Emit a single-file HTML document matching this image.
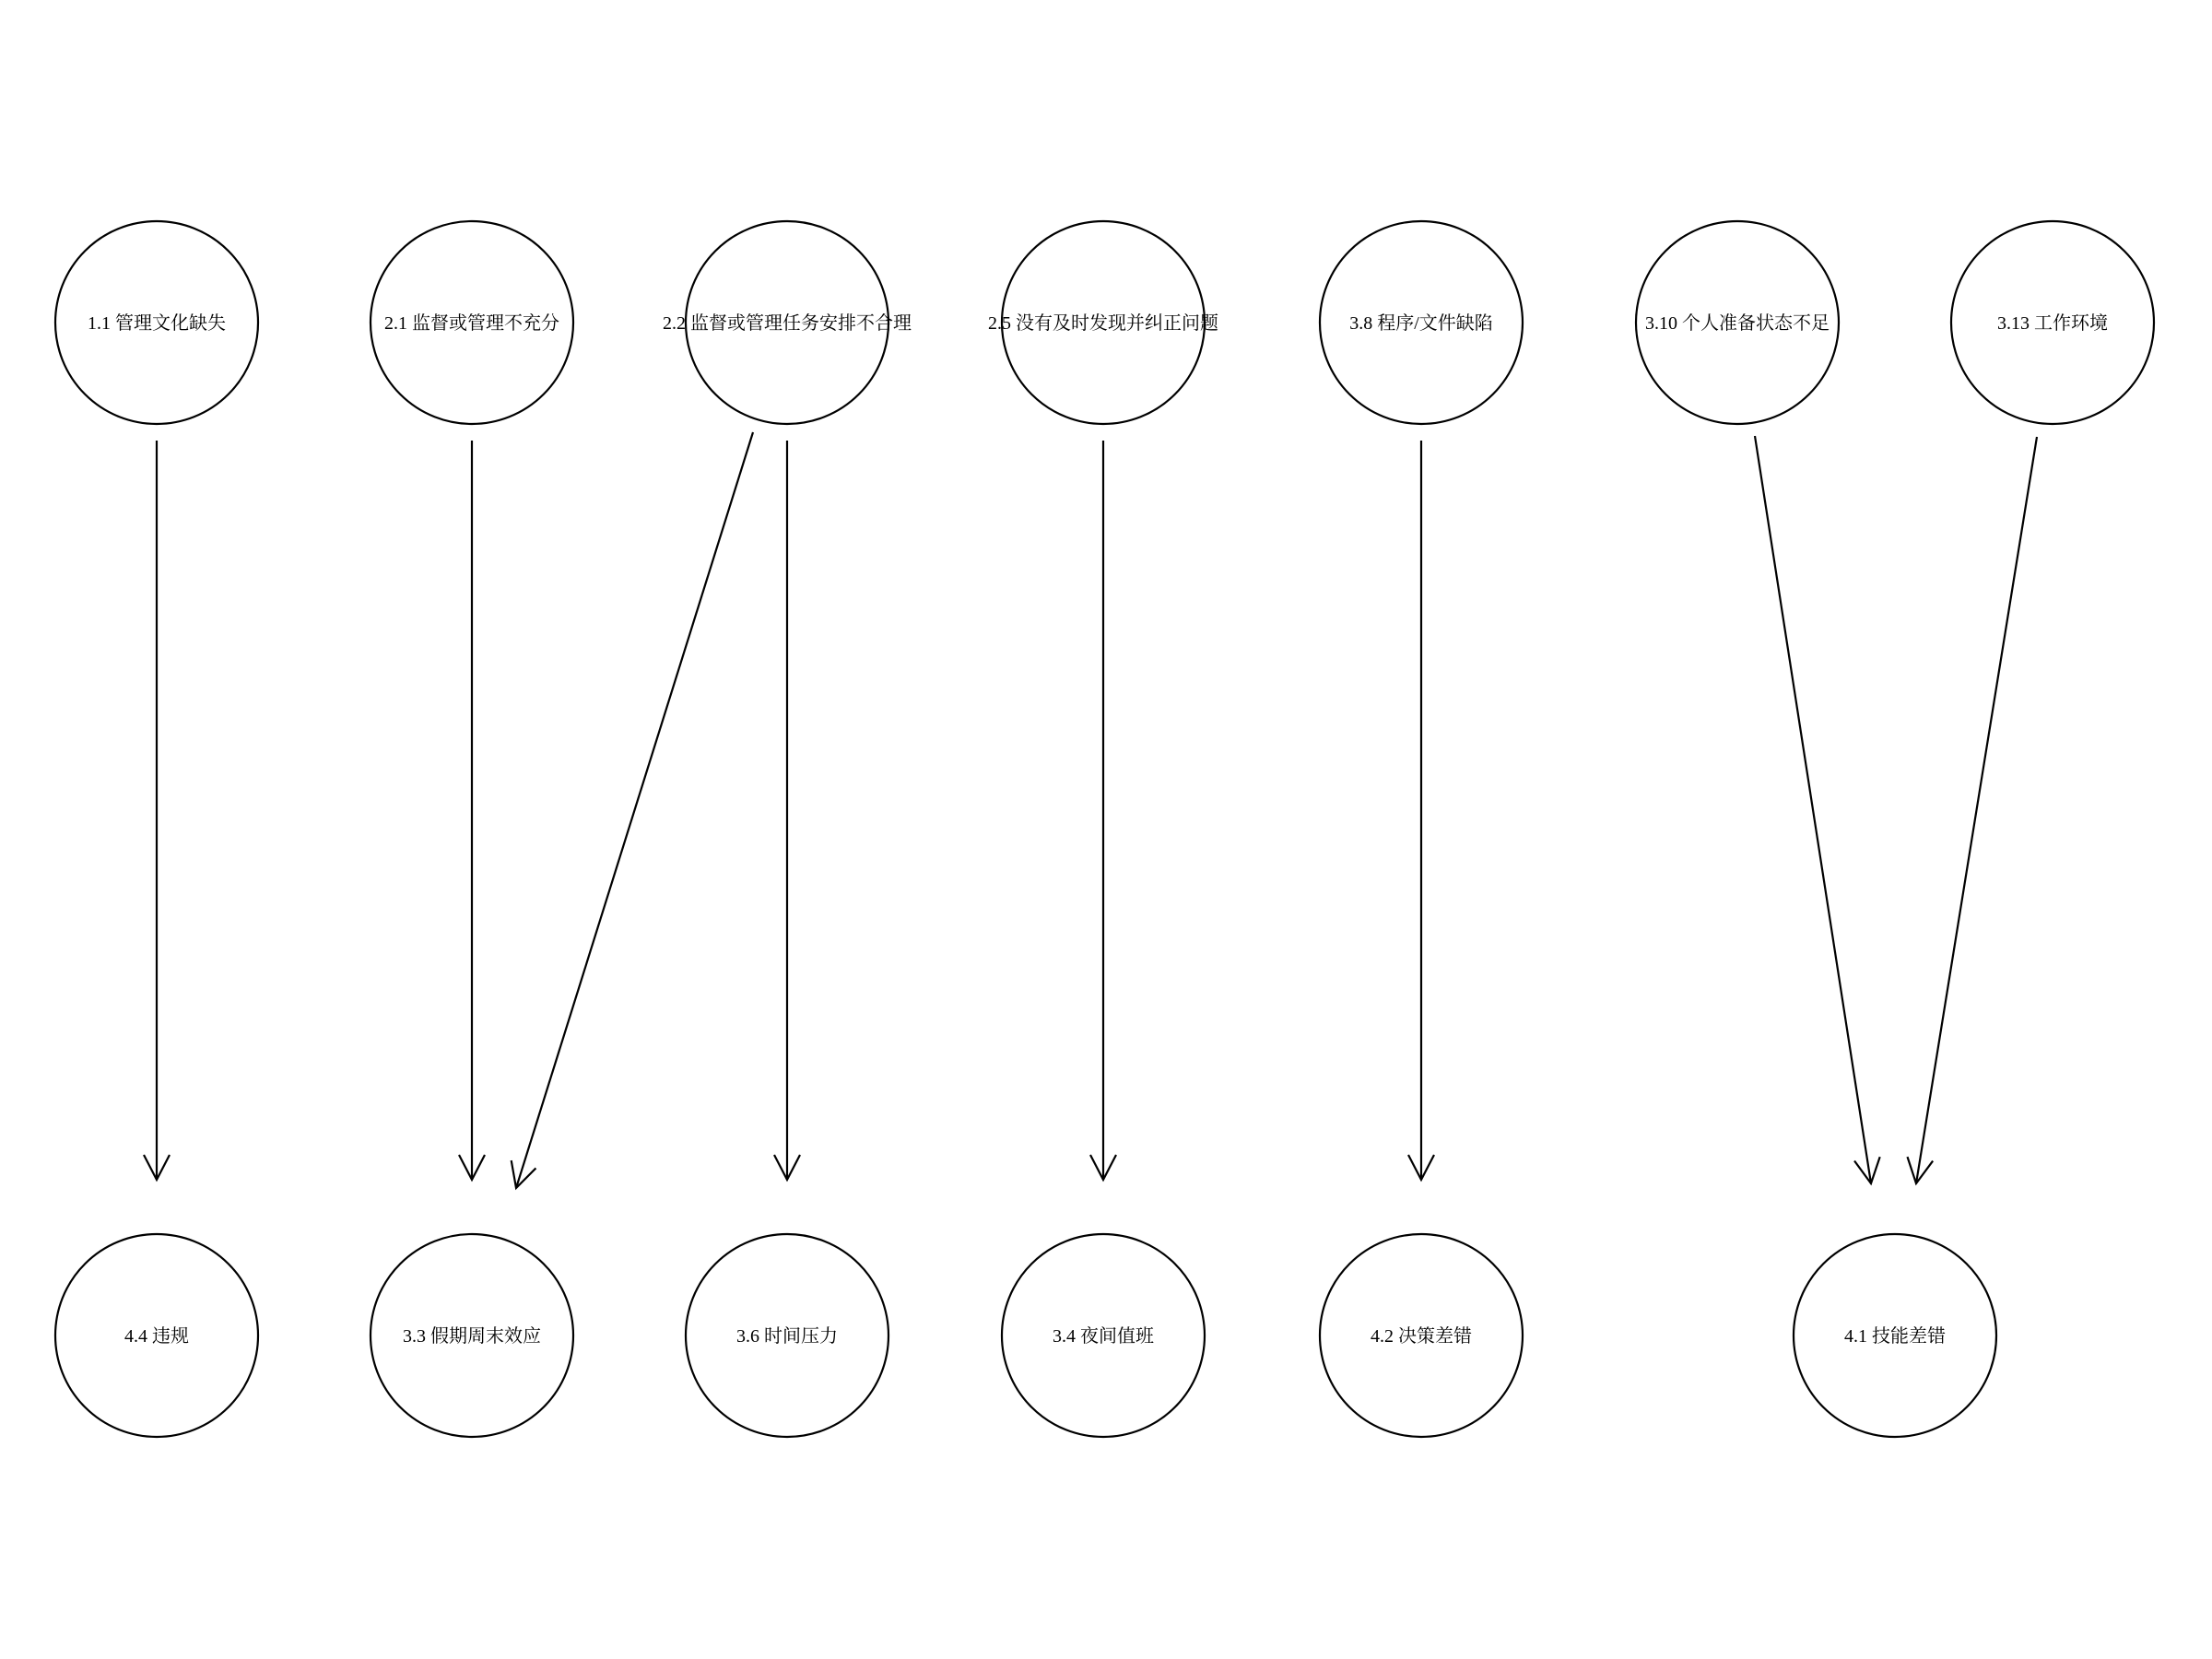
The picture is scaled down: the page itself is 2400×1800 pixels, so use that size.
<!DOCTYPE html>
<html><head><meta charset="utf-8"><style>
html,body{margin:0;padding:0;background:#fff;}
svg{display:block;}
text{font-family:"Liberation Serif","Noto Serif CJK SC",serif;font-size:20px;fill:#000;}
</style></head><body>
<svg width="2400" height="1800" viewBox="0 0 2400 1800" xmlns="http://www.w3.org/2000/svg">
<defs>
<marker id="a" markerUnits="userSpaceOnUse" markerWidth="60" markerHeight="60" refX="30" refY="30" orient="auto" viewBox="0 0 60 60">
<path d="M3,16 L30,30 L3,44" fill="none" stroke="#000" stroke-width="2.2"/>
</marker>
</defs>
<g fill="none" stroke="#000" stroke-width="2.2">
<circle cx="170" cy="350" r="110"/>
<circle cx="512" cy="350" r="110"/>
<circle cx="854" cy="350" r="110"/>
<circle cx="1197" cy="350" r="110"/>
<circle cx="1542" cy="350" r="110"/>
<circle cx="1885" cy="350" r="110"/>
<circle cx="2227" cy="350" r="110"/>
<circle cx="170" cy="1449" r="110"/>
<circle cx="512" cy="1449" r="110"/>
<circle cx="854" cy="1449" r="110"/>
<circle cx="1197" cy="1449" r="110"/>
<circle cx="1542" cy="1449" r="110"/>
<circle cx="2056" cy="1449" r="110"/>
<g marker-end="url(#a)">
<line x1="170" y1="478" x2="170" y2="1280"/>
<line x1="512" y1="478" x2="512" y2="1280"/>
<line x1="817" y1="469" x2="560" y2="1289"/>
<line x1="854" y1="478" x2="854" y2="1280"/>
<line x1="1197" y1="478" x2="1197" y2="1280"/>
<line x1="1542" y1="478" x2="1542" y2="1280"/>
<line x1="1904" y1="473" x2="2030" y2="1284"/>
<line x1="2210" y1="474" x2="2079" y2="1284"/>
</g>
</g>
<g text-anchor="middle">
<text x="170" y="357">1.1 管理文化缺失</text>
<text x="512" y="357">2.1 监督或管理不充分</text>
<text x="854" y="357">2.2 监督或管理任务安排不合理</text>
<text x="1197" y="357">2.5 没有及时发现并纠正问题</text>
<text x="1542" y="357">3.8 程序/文件缺陷</text>
<text x="1885" y="357">3.10 个人准备状态不足</text>
<text x="2227" y="357">3.13 工作环境</text>
<text x="170" y="1456">4.4 违规</text>
<text x="512" y="1456">3.3 假期周末效应</text>
<text x="854" y="1456">3.6 时间压力</text>
<text x="1197" y="1456">3.4 夜间值班</text>
<text x="1542" y="1456">4.2 决策差错</text>
<text x="2056" y="1456">4.1 技能差错</text>
</g>
</svg>
</body></html>
